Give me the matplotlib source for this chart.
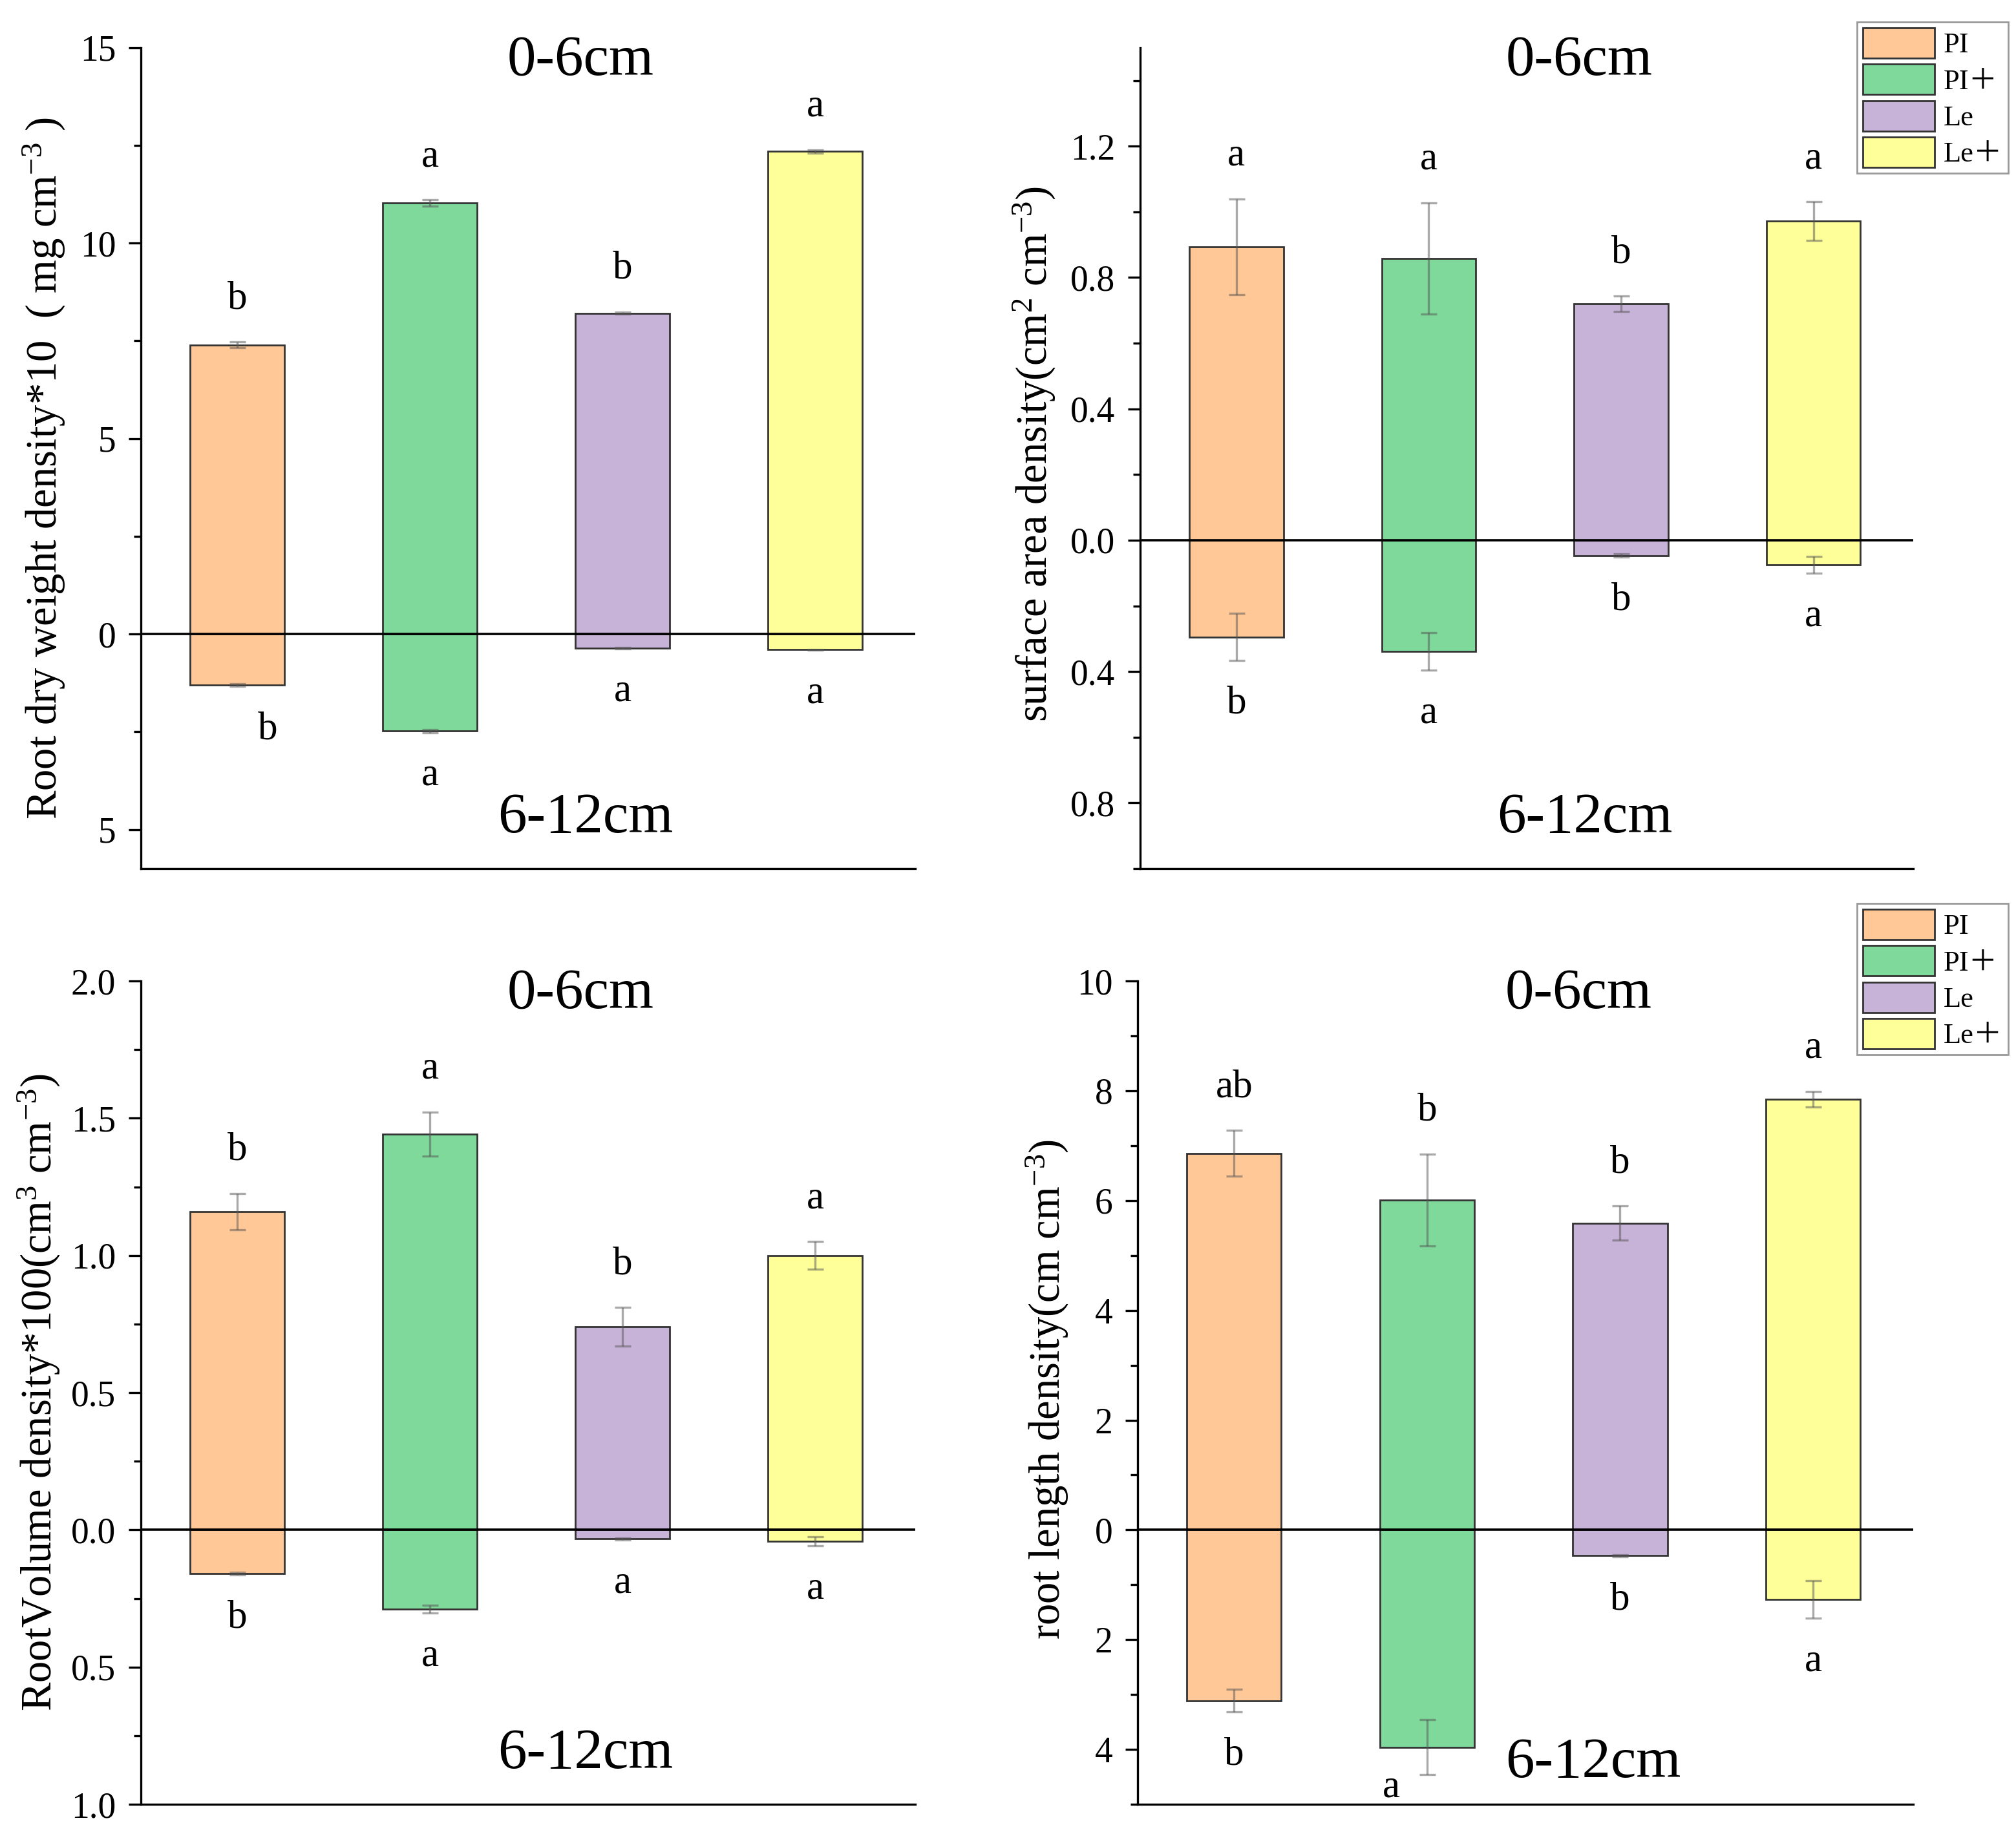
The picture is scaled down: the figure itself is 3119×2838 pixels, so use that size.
import matplotlib
matplotlib.use('Agg')
import matplotlib.pyplot as plt
from matplotlib.ticker import MultipleLocator, FuncFormatter
from matplotlib.patches import Patch

plt.rcParams['font.family'] = ['Liberation Serif', 'DejaVu Serif']
plt.rcParams['mathtext.fontset'] = 'custom'
plt.rcParams['mathtext.rm'] = 'Liberation Serif'
plt.rcParams['mathtext.it'] = 'Liberation Serif:italic'

# Treatments
treatments = ['PI', 'PI＋', 'Le', 'Le＋']
colors = ['#FFC896', '#7FD99A', '#C8B3D8', '#FFFF99']

# Root dry weight density*10 (0-6cm up, 6-12cm down)
dw_top = [7.40, 11.03, 8.21, 12.35]
dw_top_err = [0.07, 0.08, 0.03, 0.04]
dw_bot = [1.30, 2.48, 0.36, 0.40]
dw_bot_err = [0.03, 0.04, 0.01, 0.01]
dw_top_let = ['b', 'a', 'b', 'a']
dw_bot_let = ['b', 'a', 'a', 'a']

# Surface area density
sa_top = [0.894, 0.858, 0.720, 0.972]
sa_top_err = [0.146, 0.170, 0.024, 0.059]
sa_bot = [0.295, 0.339, 0.047, 0.075]
sa_bot_err = [0.072, 0.057, 0.005, 0.026]
sa_top_let = ['a', 'a', 'b', 'a']
sa_bot_let = ['b', 'a', 'b', 'a']

# Root volume density*100
rv_top = [1.16, 1.443, 0.74, 1.00]
rv_top_err = [0.066, 0.08, 0.07, 0.05]
rv_bot = [0.16, 0.288, 0.033, 0.042]
rv_bot_err = [0.005, 0.014, 0.003, 0.016]
rv_top_let = ['b', 'a', 'b', 'a']
rv_bot_let = ['b', 'a', 'a', 'a']

# Root length density
rl_top = [6.86, 6.01, 5.59, 7.85]
rl_top_err = [0.42, 0.84, 0.31, 0.14]
rl_bot = [3.11, 3.96, 0.47, 1.27]
rl_bot_err = [0.21, 0.50, 0.02, 0.34]
rl_top_let = ['ab', 'b', 'b', 'a']
rl_bot_let = ['b', 'a', 'b', 'a']

fig = plt.figure(figsize=(15.595, 14.19), dpi=200)

panels = [
    dict(rect=[0.0699, 0.5264, 0.3841, 0.4476], top=dw_top, top_err=dw_top_err,
         bot=dw_bot, bot_err=dw_bot_err, top_let=dw_top_let, bot_let=dw_bot_let,
         ylim=(-6, 15), major=5, minor=2.5, fmt='{:.0f}',
         ylabel='Root dry weight density*10  ( mg cm$^{-3}$ )', labx=-0.095, laby=0.488,
         t2=(0.574, 0.061), nudge={0: (17, 0)}),
    dict(rect=[0.5656, 0.5264, 0.3835, 0.4476], top=sa_top, top_err=sa_top_err,
         bot=sa_bot, bot_err=sa_bot_err, top_let=sa_top_let, bot_let=sa_bot_let,
         ylim=(-1.0, 1.5), major=0.4, minor=0.2, fmt='{:.1f}',
         ylabel='surface area density(cm$^{2}$ cm$^{-3}$)', labx=-0.107, laby=0.505,
         t2=(0.575, 0.061), nudge={}),
    dict(rect=[0.0699, 0.0162, 0.3841, 0.4489], top=rv_top, top_err=rv_top_err,
         bot=rv_bot, bot_err=rv_bot_err, top_let=rv_top_let, bot_let=rv_bot_let,
         ylim=(-1.0, 2.0), major=0.5, minor=0.25, fmt='{:.1f}',
         ylabel='RootVolume density*100(cm$^{3}$ cm$^{-3}$)', labx=-0.102, laby=0.5,
         t2=(0.574, 0.061), nudge={}),
    dict(rect=[0.5643, 0.0162, 0.3848, 0.4489], top=rl_top, top_err=rl_top_err,
         bot=rl_bot, bot_err=rl_bot_err, top_let=rl_top_let, bot_let=rl_bot_let,
         ylim=(-5, 10), major=2, minor=1, fmt='{:.0f}',
         ylabel='root length density(cm cm$^{-3}$)', labx=-0.087, laby=0.504,
         t2=(0.587, 0.05), nudge={1: (-20, 17)}),
]

x = [1, 2, 3, 4]
off = 24

for i, p in enumerate(panels):
    ax = fig.add_axes(p['rect'])
    neg = [-v for v in p['bot']]
    ax.bar(x, p['top'], width=0.49, color=colors, edgecolor='#333333', linewidth=1.0, zorder=2)
    ax.bar(x, neg, width=0.49, color=colors, edgecolor='#333333', linewidth=1.0, zorder=2)
    ax.errorbar(x, p['top'], yerr=p['top_err'], fmt='none', ecolor='#555555', alpha=0.5,
                elinewidth=1.2, capsize=4.5, capthick=1.2, zorder=3)
    ax.errorbar(x, neg, yerr=p['bot_err'], fmt='none', ecolor='#555555', alpha=0.5,
                elinewidth=1.2, capsize=4.5, capthick=1.2, zorder=3)
    ax.axhline(0, color='black', linewidth=1.3, zorder=4)

    for j in range(4):
        ax.annotate(p['top_let'][j], (x[j], p['top'][j] + p['top_err'][j]),
                    xytext=(0, off), textcoords='offset points',
                    ha='center', va='center', fontsize=22)
        dx, dy = p['nudge'].get(j, (0, 0))
        ax.annotate(p['bot_let'][j], (x[j], neg[j] - p['bot_err'][j]),
                    xytext=(dx, -off + dy), textcoords='offset points',
                    ha='center', va='center', fontsize=22)

    ax.text(0.568, 0.984, '0-6cm', transform=ax.transAxes, ha='center', va='center', fontsize=32)
    ax.text(p['t2'][0], p['t2'][1], '6-12cm', transform=ax.transAxes, ha='center', va='center', fontsize=32)

    ax.set_xlim(0.5, 4.52)
    ax.set_ylim(*p['ylim'])
    ax.yaxis.set_major_locator(MultipleLocator(p['major']))
    ax.yaxis.set_minor_locator(MultipleLocator(p['minor']))
    fmt = p['fmt']
    ax.yaxis.set_major_formatter(FuncFormatter(lambda v, pos, f=fmt: f.format(abs(v))))
    ax.set_xticks([])
    ax.tick_params(axis='y', which='major', direction='out', length=7, width=1.2,
                   labelsize=20, pad=7)
    ax.tick_params(axis='y', which='minor', direction='out', length=4, width=1.2)
    for s in ['top', 'right']:
        ax.spines[s].set_visible(False)
    for s in ['left', 'bottom']:
        ax.spines[s].set_linewidth(1.2)
    ax.set_ylabel(p['ylabel'], fontsize=24)
    ax.yaxis.set_label_coords(p['labx'], p['laby'])

    if i in (1, 3):
        handles = [Patch(facecolor=c, edgecolor='#333333', linewidth=1.0) for c in colors]
        top_y = 0.988 if i == 1 else 0.5074
        ax.legend(handles, treatments, loc='upper right', bbox_to_anchor=(0.996, top_y),
                  bbox_transform=fig.transFigure, fancybox=False, framealpha=1,
                  edgecolor='#999999', handlelength=2.5, handleheight=1.25,
                  labelspacing=0.2, handletextpad=0.3, borderpad=0.2, borderaxespad=0,
                  prop={'family': ['Liberation Serif', 'Noto Sans CJK SC'], 'size': 16})

fig.savefig('out.png', dpi=200)
